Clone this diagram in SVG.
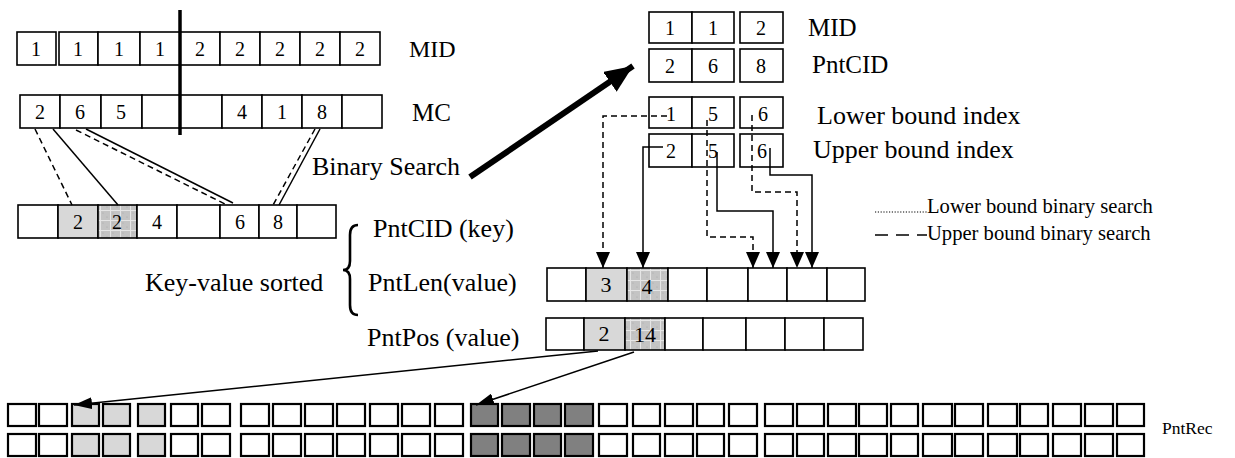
<svg xmlns="http://www.w3.org/2000/svg" width="1235" height="458" viewBox="0 0 1235 458">
<style>
text{font-family:"Liberation Serif","Times New Roman",serif;fill:#000}
.c{fill:#fff;stroke:#000;stroke-width:1.6}
.g{fill:#d8d8d8;stroke:#000;stroke-width:1.6}
.h{fill:url(#hatch);stroke:#000;stroke-width:1.6}
.r{fill:#fff;stroke:#000;stroke-width:2.2}
.rl{fill:#d8d8d8;stroke:#000;stroke-width:2.2}
.rd{fill:#808080;stroke:#000;stroke-width:2.2}
.d{font-size:20px;text-anchor:middle}
.dm{font-size:22px;text-anchor:middle}
.lb{font-size:26px}
.lg{font-size:20.6px}
.sol{fill:none;stroke:#000;stroke-width:1.5}
.dsh{fill:none;stroke:#000;stroke-width:1.5;stroke-dasharray:6 4}
</style>
<defs>
<pattern id="hatch" width="10" height="10" patternUnits="userSpaceOnUse">
<rect width="10" height="10" fill="#c4c4c4"/>
<path d="M0,0.5H10M0.5,0V10" stroke="#e6e6e6" stroke-width="1"/>
<circle cx="3" cy="3" r="0.6" fill="#a8a8a8"/><circle cx="7" cy="7" r="0.6" fill="#a8a8a8"/>
</pattern>
<marker id="tri" markerUnits="userSpaceOnUse" markerWidth="16" markerHeight="14" refX="16" refY="7" orient="auto"><path d="M0,0L16,7L0,14z" fill="#000"/></marker>
<marker id="thin" markerUnits="userSpaceOnUse" markerWidth="18" markerHeight="12" refX="18" refY="6" orient="auto"><path d="M0,0L18,6L0,12z" fill="#000"/></marker>
<marker id="big" markerUnits="userSpaceOnUse" markerWidth="28" markerHeight="24" refX="28" refY="12" orient="auto"><path d="M0,0L28,12L0,24z" fill="#000"/></marker>
</defs>
<rect width="1235" height="458" fill="#fff"/>

<g id="mid-left">
<rect class="c" x="17" y="32" width="39" height="33"/><rect class="c" x="59" y="32" width="39" height="33"/><rect class="c" x="98" y="32" width="42" height="33"/><rect class="c" x="140" y="32" width="40" height="33"/><rect class="c" x="180" y="32" width="40" height="33"/><rect class="c" x="220" y="32" width="40" height="33"/><rect class="c" x="260" y="32" width="40" height="33"/><rect class="c" x="300" y="32" width="40" height="33"/><rect class="c" x="340" y="32" width="40" height="33"/>
<text class="d" x="36" y="56">1</text><text class="d" x="78" y="56">1</text><text class="d" x="119" y="56">1</text><text class="d" x="160" y="56">1</text><text class="d" x="200" y="56">2</text><text class="d" x="240" y="56">2</text><text class="d" x="280" y="56">2</text><text class="d" x="320" y="56">2</text><text class="d" x="360" y="56">2</text>
<text x="409" y="57" style="font-size:24px">MID</text>
</g>

<g id="mc-left">
<rect class="c" x="20" y="95" width="40" height="33"/><rect class="c" x="60" y="95" width="41" height="33"/><rect class="c" x="101" y="95" width="41" height="33"/><rect class="c" x="142" y="95" width="38" height="33"/><rect class="c" x="180" y="95" width="42" height="33"/><rect class="c" x="222" y="95" width="40" height="33"/><rect class="c" x="262" y="95" width="40" height="33"/><rect class="c" x="302" y="95" width="40" height="33"/><rect class="c" x="342" y="95" width="40" height="33"/>
<text class="d" x="40" y="119">2</text><text class="d" x="80" y="119">6</text><text class="d" x="121" y="119">5</text><text class="d" x="242" y="119">4</text><text class="d" x="282" y="119">1</text><text class="d" x="322" y="119">8</text>
<text x="412" y="121" style="font-size:25px">MC</text>
</g>

<g id="divider"><line x1="180" y1="10" x2="180" y2="135" stroke="#000" stroke-width="3.5"/></g>

<g id="sorted-cid">
<rect class="c" x="18" y="205" width="40" height="33"/><rect class="g" x="58" y="205" width="40" height="33"/><rect class="h" x="98" y="205" width="39" height="33"/><rect class="c" x="137" y="205" width="40" height="33"/><rect class="c" x="177" y="205" width="43" height="33"/><rect class="c" x="220" y="205" width="39" height="33"/><rect class="c" x="259" y="205" width="38" height="33"/><rect class="c" x="297" y="205" width="39" height="33"/>
<text class="d" x="78" y="229">2</text><text class="d" x="117" y="229">2</text><text class="d" x="157" y="229">4</text><text class="d" x="240" y="229">6</text><text class="d" x="278" y="229">8</text>
</g>

<g id="kv-labels">
<text class="lb" x="373" y="237">PntCID (key)</text>
<text class="lb" x="145" y="291">Key-value sorted</text>
<text class="lb" x="368" y="291">PntLen(value)</text>
<text class="lb" x="367" y="346">PntPos (value)</text>
<path d="M358,225 Q350,225 350,235 V261 Q350,270 343,270 Q350,270 350,279 V305 Q350,315 358,315" fill="none" stroke="#000" stroke-width="2.6"/>
</g>

<g id="mid-right">
<rect class="c" x="649" y="12" width="43" height="31"/><rect class="c" x="692" y="12" width="42" height="31"/><rect class="c" x="740" y="12" width="43" height="31"/>
<text class="d" x="670" y="35">1</text><text class="d" x="713" y="35">1</text><text class="d" x="761" y="35">2</text>
<text x="808" y="36" style="font-size:25px">MID</text>
</g>
<g id="pntcid-right">
<rect class="c" x="649" y="49" width="43" height="33"/><rect class="c" x="692" y="49" width="42" height="33"/><rect class="c" x="740" y="49" width="43" height="33"/>
<text class="d" x="670" y="73">2</text><text class="d" x="713" y="73">6</text><text class="d" x="761" y="73">8</text>
<text x="812" y="73" style="font-size:25px">PntCID</text>
</g>
<g id="lower-bound">
<rect class="c" x="649" y="97" width="43" height="31"/><rect class="c" x="692" y="97" width="42" height="31"/><rect class="c" x="740" y="97" width="43" height="31"/>
<text class="d" x="671" y="121">1</text><text class="d" x="713" y="121">5</text><text class="d" x="763" y="121">6</text>
<text class="lb" x="817" y="124">Lower bound index</text>
</g>
<g id="upper-bound">
<rect class="c" x="649" y="134" width="43" height="33"/><rect class="c" x="692" y="134" width="42" height="33"/><rect class="c" x="740" y="134" width="43" height="33"/>
<text class="d" x="671" y="158">2</text><text class="d" x="713" y="158">5</text><text class="d" x="762" y="158">6</text>
<text class="lb" x="813" y="158">Upper bound index</text>
</g>

<g id="pntlen">
<rect class="c" x="547" y="268" width="39" height="33"/><rect class="g" x="586" y="268" width="41" height="33"/><rect class="h" x="627" y="268" width="41" height="33"/><rect class="c" x="668" y="268" width="39" height="33"/><rect class="c" x="707" y="268" width="41" height="33"/><rect class="c" x="748" y="268" width="39" height="33"/><rect class="c" x="787" y="268" width="40" height="33"/><rect class="c" x="827" y="268" width="38" height="33"/>
<text class="dm" x="606" y="292">3</text><text class="dm" x="647" y="294">4</text>
</g>
<g id="pntpos">
<rect class="c" x="546" y="318" width="38" height="32"/><rect class="g" x="584" y="318" width="41" height="32"/><rect class="h" x="625" y="318" width="40" height="32"/><rect class="c" x="665" y="318" width="38" height="32"/><rect class="c" x="703" y="318" width="43" height="32"/><rect class="c" x="746" y="318" width="39" height="32"/><rect class="c" x="785" y="318" width="39" height="32"/><rect class="c" x="824" y="318" width="39" height="32"/>
<text class="dm" x="604" y="341">2</text><text class="dm" x="645" y="342">14</text>
</g>

<g id="pntrec">
<g id="pntrec-row1">
<rect class="r" x="8" y="404" width="28" height="22"/><rect class="r" x="39" y="404" width="28" height="22"/><rect class="rl" x="72" y="404" width="27" height="22"/><rect class="rl" x="103" y="404" width="27" height="22"/><rect class="rl" x="138" y="404" width="27" height="22"/><rect class="r" x="171" y="404" width="27" height="22"/><rect class="r" x="202" y="404" width="28" height="22"/>
<rect class="r" x="241" y="404" width="28" height="22"/><rect class="r" x="273" y="404" width="28" height="22"/><rect class="r" x="305" y="404" width="28" height="22"/><rect class="r" x="337" y="404" width="28" height="22"/><rect class="r" x="370" y="404" width="28" height="22"/><rect class="r" x="402" y="404" width="28" height="22"/><rect class="r" x="435" y="404" width="28" height="22"/>
<rect class="rd" x="471" y="404" width="27" height="22"/><rect class="rd" x="502" y="404" width="28" height="22"/><rect class="rd" x="534" y="404" width="27" height="22"/><rect class="rd" x="565" y="404" width="28" height="22"/>
<rect class="r" x="599" y="404" width="28" height="22"/><rect class="r" x="633" y="404" width="27" height="22"/><rect class="r" x="665" y="404" width="28" height="22"/><rect class="r" x="697" y="404" width="27" height="22"/><rect class="r" x="729" y="404" width="28" height="22"/>
<rect class="r" x="765" y="404" width="28" height="22"/><rect class="r" x="797" y="404" width="27" height="22"/><rect class="r" x="828" y="404" width="28" height="22"/><rect class="r" x="859" y="404" width="28" height="22"/><rect class="r" x="891" y="404" width="27" height="22"/><rect class="r" x="923" y="404" width="29" height="22"/><rect class="r" x="955" y="404" width="28" height="22"/><rect class="r" x="988" y="404" width="29" height="22"/><rect class="r" x="1020" y="404" width="28" height="22"/><rect class="r" x="1053" y="404" width="28" height="22"/><rect class="r" x="1085" y="404" width="28" height="22"/><rect class="r" x="1117" y="404" width="27" height="22"/>
</g>
<g id="pntrec-row2">
<rect class="r" x="8" y="434" width="28" height="22"/><rect class="r" x="39" y="434" width="28" height="22"/><rect class="rl" x="72" y="434" width="27" height="22"/><rect class="rl" x="103" y="434" width="27" height="22"/><rect class="rl" x="138" y="434" width="27" height="22"/><rect class="r" x="171" y="434" width="27" height="22"/><rect class="r" x="202" y="434" width="28" height="22"/>
<rect class="r" x="241" y="434" width="28" height="22"/><rect class="r" x="273" y="434" width="28" height="22"/><rect class="r" x="305" y="434" width="28" height="22"/><rect class="r" x="337" y="434" width="28" height="22"/><rect class="r" x="370" y="434" width="28" height="22"/><rect class="r" x="402" y="434" width="28" height="22"/><rect class="r" x="435" y="434" width="28" height="22"/>
<rect class="rd" x="471" y="434" width="27" height="22"/><rect class="rd" x="502" y="434" width="28" height="22"/><rect class="rd" x="534" y="434" width="27" height="22"/><rect class="rd" x="565" y="434" width="28" height="22"/>
<rect class="r" x="599" y="434" width="28" height="22"/><rect class="r" x="633" y="434" width="27" height="22"/><rect class="r" x="665" y="434" width="28" height="22"/><rect class="r" x="697" y="434" width="27" height="22"/><rect class="r" x="729" y="434" width="28" height="22"/>
<rect class="r" x="765" y="434" width="28" height="22"/><rect class="r" x="797" y="434" width="27" height="22"/><rect class="r" x="828" y="434" width="28" height="22"/><rect class="r" x="859" y="434" width="28" height="22"/><rect class="r" x="891" y="434" width="27" height="22"/><rect class="r" x="923" y="434" width="29" height="22"/><rect class="r" x="955" y="434" width="28" height="22"/><rect class="r" x="988" y="434" width="29" height="22"/><rect class="r" x="1020" y="434" width="28" height="22"/><rect class="r" x="1053" y="434" width="28" height="22"/><rect class="r" x="1085" y="434" width="28" height="22"/><rect class="r" x="1117" y="434" width="27" height="22"/>
</g>
<text x="1162" y="434" style="font-size:17.5px">PntRec</text>
</g>

<g id="legend">
<line x1="875" y1="212" x2="927" y2="212" stroke="#000" stroke-width="1" stroke-dasharray="1.2 1.6"/>
<text class="lg" x="927" y="213">Lower bound binary search</text>
<line x1="875" y1="235" x2="927" y2="235" stroke="#000" stroke-width="1.6" stroke-dasharray="13 8"/>
<text class="lg" x="927" y="240">Upper bound binary search</text>
</g>

<g id="binary-search">
<text class="lb" x="312" y="175">Binary Search</text>
</g>

<g id="connectors">
<line class="dsh" x1="35" y1="129" x2="72" y2="205"/>
<line class="sol" x1="53" y1="129" x2="118" y2="205"/>
<line class="dsh" x1="76" y1="130" x2="227" y2="205"/>
<line class="sol" x1="86" y1="129" x2="233" y2="203"/>
<line class="dsh" x1="315" y1="129" x2="273" y2="205"/>
<line class="sol" x1="320" y1="129" x2="279" y2="205"/>
<line x1="470" y1="177" x2="633" y2="66" stroke="#000" stroke-width="6" marker-end="url(#big)"/>
<path class="dsh" d="M667,116H603V268" marker-end="url(#tri)"/>
<path class="sol" d="M663,147H643V268" marker-end="url(#tri)"/>
<path class="dsh" d="M707,120V237H753V268" marker-end="url(#tri)"/>
<path class="sol" d="M717,152V211H773V268" marker-end="url(#tri)"/>
<path class="dsh" d="M752,115V192H797V268" marker-end="url(#tri)"/>
<path class="sol" d="M770,148V175H812V268" marker-end="url(#tri)"/>
<line class="sol" x1="598" y1="351" x2="74" y2="405" marker-end="url(#thin)"/>
<line class="sol" x1="634" y1="352" x2="476" y2="405" marker-end="url(#thin)"/>
</g>
</svg>
